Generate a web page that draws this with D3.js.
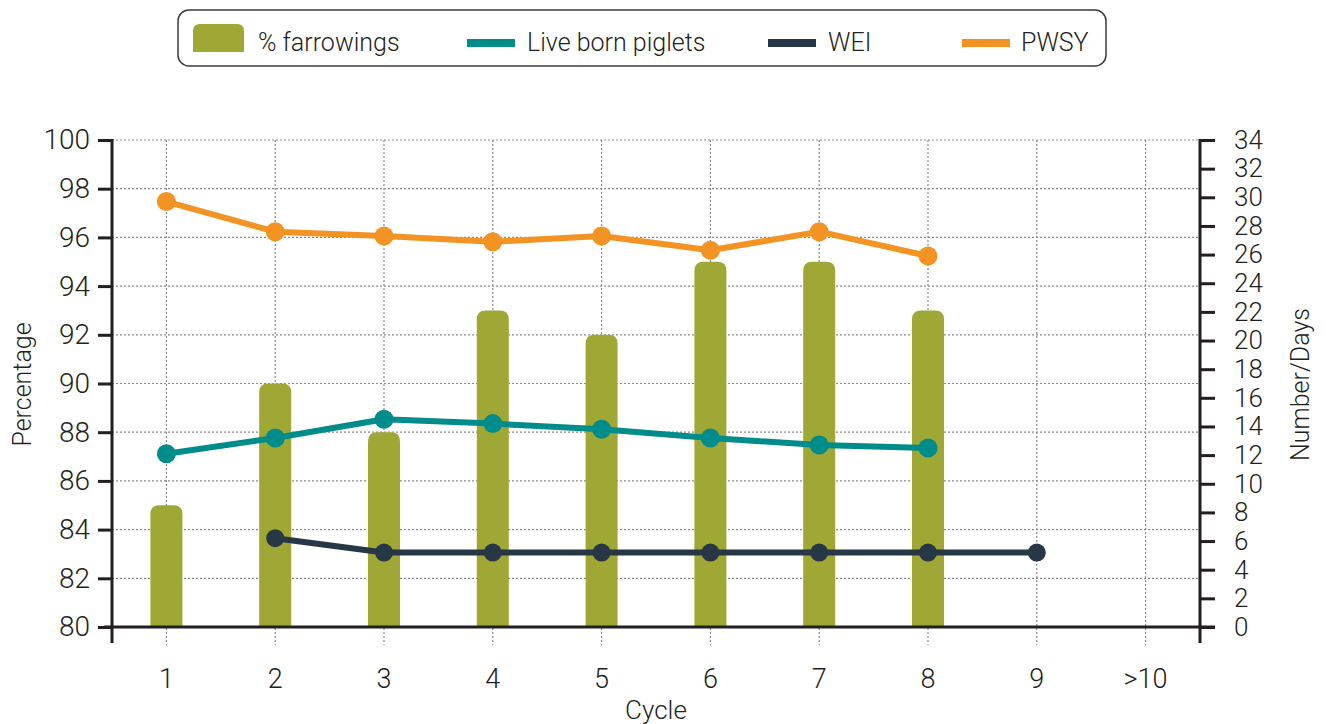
<!DOCTYPE html>
<html>
<head>
<meta charset="utf-8">
<script src="https://cdn.jsdelivr.net/npm/d3@7"></script>
<style>
  html, body { margin: 0; padding: 0; background: #fff; }
  svg { display: block; }
  text { font-family: Roboto, "Liberation Sans", sans-serif; font-weight: 300; fill: #231f20; }
</style>
</head>
<body>
<svg id="chart" width="1330" height="724"></svg>
<script>
// Cycle categories along the x axis
const cycles = ["1", "2", "3", "4", "5", "6", "7", "8", "9", ">10"];

// % farrowings (left axis, percentage)
const farrowings = [85, 90, 88, 93, 92, 95, 95, 93];
// Live born piglets (right axis, number)
const liveBorn = [12.1, 13.2, 14.5, 14.2, 13.8, 13.2, 12.7, 12.5];
// Weaning-to-estrus interval (right axis, days)
const wei = [null, 6.2, 5.2, 5.2, 5.2, 5.2, 5.2, 5.2, 5.2];
// Pigs weaned per sow per year (right axis, number)
const pwsy = [29.7, 27.6, 27.3, 26.9, 27.3, 26.3, 27.6, 25.9];

const leftTicks = d3.range(80, 101, 2);
const rightTicks = d3.range(0, 35, 2);

const colors = {
  bar: "#9fa735",
  live: "#008c8a",
  wei: "#283746",
  pwsy: "#f29323",
  axis: "#231f20",
  grid: "#8a8a8a"
};

const svg = d3.select("#chart");
const plot = { left: 112, right: 1200, top: 140, bottom: 627 };

const x = d3.scaleBand().domain(cycles).range([plot.left, plot.right]).padding(0);
const cx = c => x(c) + x.bandwidth() / 2;
const yL = d3.scaleLinear().domain([80, 100]).range([plot.bottom, plot.top]);
const yR = d3.scaleLinear().domain([0, 34]).range([plot.bottom, plot.top]);

// Dotted grid
const grid = svg.append("g").attr("stroke", colors.grid).attr("stroke-width", 1.2).attr("stroke-dasharray", "2,2");
grid.selectAll("line.h").data(leftTicks.filter(t => t > 80)).join("line")
  .attr("x1", plot.left).attr("x2", plot.right)
  .attr("y1", d => yL(d)).attr("y2", d => yL(d));
grid.selectAll("line.v").data(cycles).join("line")
  .attr("x1", d => cx(d)).attr("x2", d => cx(d))
  .attr("y1", plot.top).attr("y2", plot.bottom + 18);

// Bars with rounded tops
const barW = 32, r = 9;
function barPath(xc, yTop, yBase) {
  const x0 = xc - barW / 2, x1 = xc + barW / 2;
  return `M${x0},${yBase}V${yTop + r}Q${x0},${yTop} ${x0 + r},${yTop}H${x1 - r}Q${x1},${yTop} ${x1},${yTop + r}V${yBase}Z`;
}
svg.append("g").selectAll("path").data(farrowings).join("path")
  .attr("fill", colors.bar)
  .attr("d", (d, i) => barPath(cx(cycles[i]), yL(d), yL(80)));

// Axes
const axisG = svg.append("g").attr("stroke", colors.axis).attr("stroke-width", 3);
axisG.append("line").attr("x1", plot.left).attr("x2", plot.left).attr("y1", plot.top - 1).attr("y2", plot.bottom + 16);
axisG.append("line").attr("x1", plot.right).attr("x2", plot.right).attr("y1", plot.top - 1).attr("y2", plot.bottom + 16);

const leftAxis = svg.append("g").attr("transform", `translate(${plot.left},0)`)
  .call(d3.axisLeft(yL).tickValues(leftTicks).tickSize(14).tickPadding(8).tickFormat(d3.format("d")));
leftAxis.select(".domain").remove();
leftAxis.selectAll(".tick line").attr("stroke", colors.axis).attr("stroke-width", 3);
leftAxis.selectAll(".tick text").attr("font-size", 28).attr("fill", colors.axis)
  .style("font-family", "Roboto, 'Liberation Sans', sans-serif").style("font-weight", 300);

const rightAxis = svg.append("g").attr("transform", `translate(${plot.right},0)`)
  .call(d3.axisRight(yR).tickValues(rightTicks).tickSize(15).tickPadding(19).tickFormat(d3.format("d")));
rightAxis.select(".domain").remove();
rightAxis.selectAll(".tick line").attr("stroke", colors.axis).attr("stroke-width", 3);
rightAxis.selectAll(".tick text").attr("font-size", 26).attr("fill", colors.axis)
  .style("font-family", "Roboto, 'Liberation Sans', sans-serif").style("font-weight", 300);

// Baseline
axisG.append("line").attr("x1", plot.left - 8).attr("x2", plot.right + 15).attr("y1", plot.bottom).attr("y2", plot.bottom);

const bottomAxis = svg.append("g").attr("transform", `translate(0,${plot.bottom})`)
  .call(d3.axisBottom(x).tickSize(0).tickPadding(42));
bottomAxis.select(".domain").remove();
bottomAxis.selectAll(".tick text").attr("font-size", 27).attr("fill", colors.axis)
  .style("font-family", "Roboto, 'Liberation Sans', sans-serif").style("font-weight", 300);

// Axis titles
svg.append("text").attr("x", (plot.left + plot.right) / 2).attr("y", 719)
  .attr("text-anchor", "middle").attr("font-size", 26).text("Cycle");
svg.append("text").attr("transform", `translate(31,${(plot.top + plot.bottom) / 2 + 1}) rotate(-90)`)
  .attr("text-anchor", "middle").attr("font-size", 25).text("Percentage");
svg.append("text").attr("transform", `translate(1309,${(plot.top + plot.bottom) / 2 + 1}) rotate(-90)`)
  .attr("text-anchor", "middle").attr("font-size", 25).text("Number/Days");

// Lines with markers
function drawSeries(values, color, radius) {
  const pts = values.map((v, i) => ({ c: cycles[i], v })).filter(p => p.v != null);
  const line = d3.line().x(p => cx(p.c)).y(p => yR(p.v));
  svg.append("path").datum(pts).attr("fill", "none").attr("stroke", color)
    .attr("stroke-width", 6).attr("stroke-linejoin", "round").attr("d", line);
  svg.append("g").selectAll("circle").data(pts).join("circle")
    .attr("cx", p => cx(p.c)).attr("cy", p => yR(p.v)).attr("r", radius).attr("fill", color);
}
drawSeries(pwsy, colors.pwsy, 9.5);
drawSeries(liveBorn, colors.live, 9.5);
drawSeries(wei, colors.wei, 9);

// Legend
const legend = svg.append("g");
legend.append("rect").attr("x", 178).attr("y", 10).attr("width", 928).attr("height", 56)
  .attr("rx", 11).attr("fill", "#fff").attr("stroke", "#3a3a3a").attr("stroke-width", 1.5);
const legendItems = [
  { label: "% farrowings", color: colors.bar, type: "bar", x: 193, tx: 258 },
  { label: "Live born piglets", color: colors.live, type: "line", x: 467, tx: 527 },
  { label: "WEI", color: colors.wei, type: "line", x: 768, tx: 828 },
  { label: "PWSY", color: colors.pwsy, type: "line", x: 962, tx: 1021 }
];
legendItems.forEach(it => {
  if (it.type === "bar") {
    const x0 = it.x, x1 = it.x + 51, yT = 24, yB = 52, rr = 7;
    legend.append("path").attr("fill", it.color)
      .attr("d", `M${x0},${yB}V${yT + rr}Q${x0},${yT} ${x0 + rr},${yT}H${x1 - rr}Q${x1},${yT} ${x1},${yT + rr}V${yB}Z`);
  } else {
    legend.append("rect").attr("x", it.x).attr("y", 39).attr("width", 48).attr("height", 8).attr("fill", it.color);
  }
  legend.append("text").attr("x", it.tx).attr("y", 51).attr("font-size", 25).text(it.label);
});
</script>
</body>
</html>
